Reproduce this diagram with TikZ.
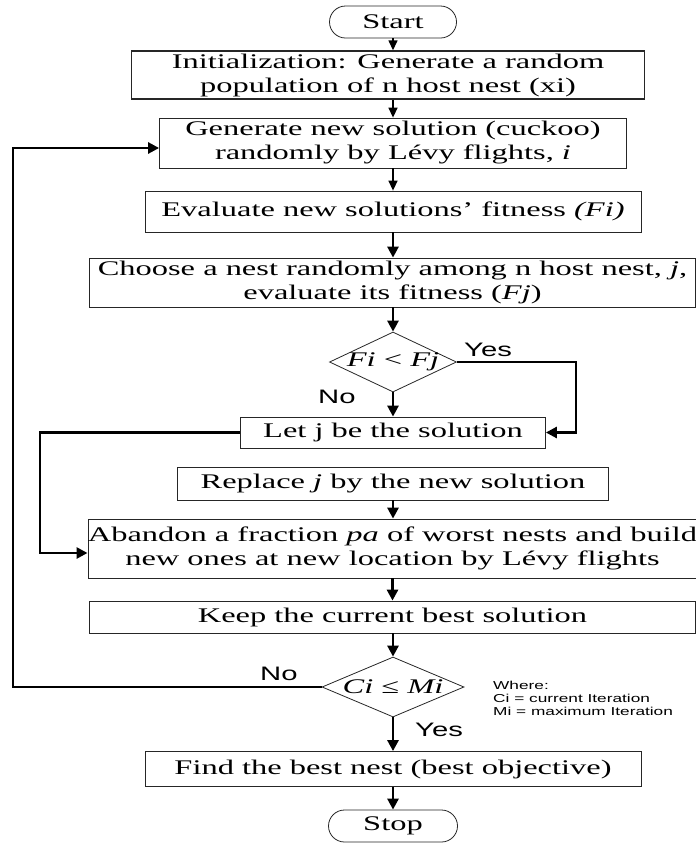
\documentclass[tikz,border=0pt]{standalone}
\usepackage{fontspec}
\setmainfont{Liberation Serif}[FakeStretch=1.56]
\newfontfamily\lblfont{Liberation Sans}[FakeStretch=1.5]
\usetikzlibrary{arrows.meta,shapes.geometric}
\begin{document}
\begin{tikzpicture}[x=1pt,y=-1pt,
  box/.style={draw=black!85, line width=0.8pt, inner sep=0pt, align=center, font=\fontsize{20.8}{24}\selectfont},
  term/.style={box, rounded corners=16pt},
  dec/.style={draw=black!85, line width=0.8pt, shape=diamond, inner sep=0pt, font=\fontsize{20.8}{24}\selectfont},
  thinarrow/.style={line width=1.4pt, -{Triangle[length=10pt,width=9pt]}},
  thickarrow/.style={line width=2.7pt, -{Triangle[length=11pt,width=11pt]}},
  lbl/.style={font=\lblfont\fontsize{19.5}{22}\selectfont, inner sep=0pt},
]
\useasboundingbox (0,0) rectangle (696,844);

\node[term, minimum width=127pt, minimum height=32pt] (start) at (393,22) {Start};
\node[box, line width=1.4pt, minimum width=513pt, minimum height=48pt] (init) at (388,75) {Initialization: Generate a random\\population of n host nest (xi)};
\node[box, minimum width=467pt, minimum height=50pt] (gen) at (393,143) {Generate new solution (cuckoo)\\randomly by Lévy flights, \textit{i}};
\node[box, minimum width=496pt, minimum height=41pt] (eval) at (393,211.5) {Evaluate new solutions’ fitness \textit{(Fi)}};
\node[box, minimum width=606pt, minimum height=49pt] (choose) at (392.5,282.5) {Choose a nest randomly among n host nest, \textit{j},\\evaluate its fitness (\textit{Fj})};
\node[dec, minimum width=127pt, minimum height=60pt] (d1) at (393,362) {\makebox[0pt]{\textit{Fi} < \textit{Fj}}};
\node[box, minimum width=305pt, minimum height=31pt] (let) at (393,432.5) {Let j be the solution};
\node[box, minimum width=431pt, minimum height=33pt] (repl) at (393,483.5) {Replace \textit{j} by the new solution};
\node[box, minimum width=606pt, minimum height=59pt] (aband) at (392.5,548.5) {Abandon a fraction \textit{pa} of worst nests and build\\new ones at new location by Lévy flights};
\node[box, minimum width=606pt, minimum height=32pt] (keep) at (392.5,617) {Keep the current best solution};
\node[dec, minimum width=142pt, minimum height=60pt] (d2) at (393,687) {\makebox[0pt]{\textit{Ci} ≤ \textit{Mi}}};
\node[box, minimum width=496pt, minimum height=35pt] (find) at (393,769) {Find the best nest (best objective)};
\node[term, minimum width=129pt, minimum height=32pt] (stop) at (393,826) {Stop};

\draw[thinarrow] (start.south) -- (start.south |- init.north);
\draw[thinarrow] (init.south -| gen.north) -- (gen.north);
\draw[thinarrow] (gen.south) -- (eval.north);
\draw[thickarrow] (eval.south) -- (eval.south |- choose.north);
\draw[thickarrow] (choose.south -| d1.north) -- (d1.north);
\draw[thickarrow] (d1.south) -- (let.north);
\draw[thickarrow] (repl.south) -- (repl.south |- aband.north);
\draw[thickarrow] (aband.south -| keep.south) -- (keep.north);
\draw[thickarrow] (keep.south -| d2.north) -- (d2.north);
\draw[thickarrow] (d2.south) -- (find.north);
\draw[thickarrow] (find.south) -- (stop.north);

\coordinate (yesc) at (576,0);
\draw[thickarrow] (d1.east) -- (d1.east -| yesc) |- (let.east);
\coordinate (lc) at (40,0);
\draw[thickarrow] (let.west) -- (let.west -| lc) |- ([yshift=-4.5pt]aband.west);
\coordinate (nc) at (13,0);
\draw[thickarrow] (d2.west) -- (d2.west -| nc) |- ([yshift=-5pt]gen.west);

\node[lbl, anchor=base west] (yes1) at (464,356) {Yes};
\node[lbl, anchor=base west] (no1) at (318,403) {No};
\node[lbl, anchor=base west] (no2) at (260,680) {No};
\node[lbl, anchor=base west] (yes2) at (415,736) {Yes};
\node[anchor=north west, font=\lblfont\fontsize{11.5}{13}\selectfont, align=left, inner sep=0pt] (where) at (493,681) {Where:\\Ci = current Iteration\\Mi = maximum Iteration};
\end{tikzpicture}
\end{document}
